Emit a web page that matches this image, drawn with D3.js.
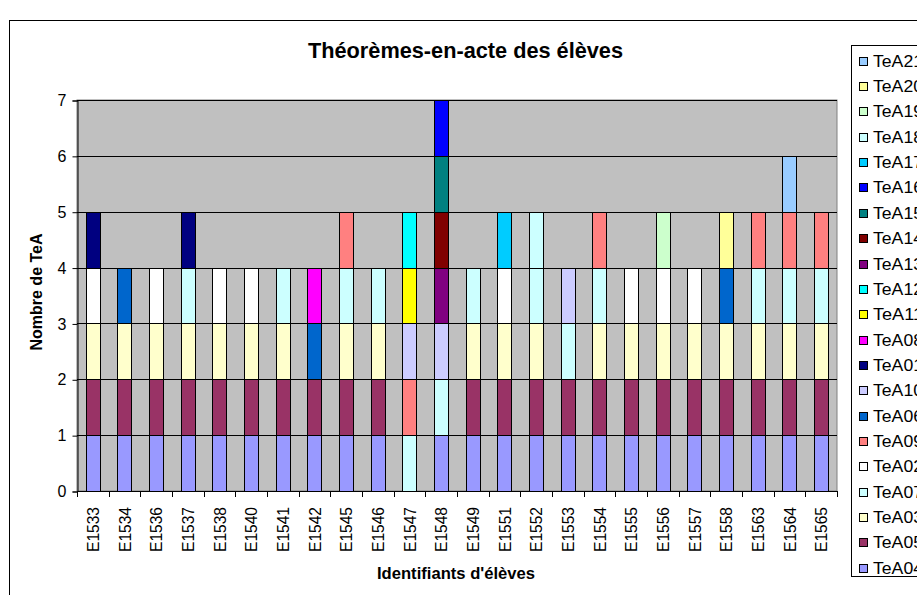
<!DOCTYPE html>
<html>
<head>
<meta charset="utf-8">
<script src="https://cdn.jsdelivr.net/npm/d3@7"></script>
<style>
  body { margin: 0; background: #fff; }
  text { font-family: Arial, "Liberation Sans", sans-serif; }
</style>
</head>
<body>
<div id="chart"></div>
<script>
const students = ["E1533", "E1534", "E1536", "E1537", "E1538", "E1540", "E1541", "E1542",
  "E1545", "E1546", "E1547", "E1548", "E1549", "E1551", "E1552", "E1553", "E1554",
  "E1555", "E1556", "E1557", "E1558", "E1563", "E1564", "E1565"];

// stacking order, bottom to top (legend shows it reversed)
const seriesNames = ["TeA04", "TeA05", "TeA03", "TeA07", "TeA02", "TeA09", "TeA06", "TeA10",
  "TeA01", "TeA08", "TeA11", "TeA12", "TeA13", "TeA14", "TeA15", "TeA16", "TeA17",
  "TeA18", "TeA19", "TeA20", "TeA21"];

const seriesColors = ["#9999ff", "#993366", "#ffffcc", "#ccffff", "#ffffff", "#ff8080", "#0066cc", "#ccccff",
  "#000080", "#ff00ff", "#ffff00", "#00ffff", "#800080", "#800000", "#008080", "#0000ff", "#00ccff",
  "#ccffff", "#ccffcc", "#ffff99", "#99ccff"];

// theorems-in-action held by each student (value 1 each)
const teaByStudent = [
  ["TeA04", "TeA05", "TeA03", "TeA02", "TeA01"],
  ["TeA04", "TeA05", "TeA03", "TeA06"],
  ["TeA04", "TeA05", "TeA03", "TeA02"],
  ["TeA04", "TeA05", "TeA03", "TeA07", "TeA01"],
  ["TeA04", "TeA05", "TeA03", "TeA02"],
  ["TeA04", "TeA05", "TeA03", "TeA02"],
  ["TeA04", "TeA05", "TeA03", "TeA07"],
  ["TeA04", "TeA05", "TeA06", "TeA08"],
  ["TeA04", "TeA05", "TeA03", "TeA07", "TeA09"],
  ["TeA04", "TeA05", "TeA03", "TeA07"],
  ["TeA07", "TeA09", "TeA10", "TeA11", "TeA12"],
  ["TeA04", "TeA07", "TeA10", "TeA13", "TeA14", "TeA15", "TeA16"],
  ["TeA04", "TeA05", "TeA03", "TeA07"],
  ["TeA04", "TeA05", "TeA03", "TeA02", "TeA17"],
  ["TeA04", "TeA05", "TeA03", "TeA07", "TeA18"],
  ["TeA04", "TeA05", "TeA07", "TeA10"],
  ["TeA04", "TeA05", "TeA03", "TeA07", "TeA09"],
  ["TeA04", "TeA05", "TeA03", "TeA02"],
  ["TeA04", "TeA05", "TeA03", "TeA02", "TeA19"],
  ["TeA04", "TeA05", "TeA03", "TeA02"],
  ["TeA04", "TeA05", "TeA03", "TeA06", "TeA20"],
  ["TeA04", "TeA05", "TeA03", "TeA07", "TeA09"],
  ["TeA04", "TeA05", "TeA03", "TeA07", "TeA09", "TeA21"],
  ["TeA04", "TeA05", "TeA03", "TeA07", "TeA09"]
];

const yTicks = [0, 1, 2, 3, 4, 5, 6, 7];

let width = 917, height = 595;
let plot = {left: 77, right: 837, top: 100, bottom: 491};

let svg = d3.select("#chart").append("svg")
  .attr("width", width)
  .attr("height", height);

// chart area border
svg.append("rect")
  .attr("x", 9.5).attr("y", 20.5)
  .attr("width", 1000).attr("height", 1000)
  .attr("fill", "#fff")
  .attr("stroke", "#000");

let rows = students.map((s, i) => {
  let row = {student: s};
  seriesNames.forEach(k => { row[k] = teaByStudent[i].includes(k) ? 1 : 0; });
  return row;
});

let stacked = d3.stack().keys(seriesNames)(rows);

let x = d3.scaleBand()
  .domain(students)
  .range([plot.left, plot.right])
  .paddingInner(0.5556)
  .paddingOuter(0.2778);

let y = d3.scaleLinear()
  .domain([0, 7])
  .range([plot.bottom, plot.top]);

let color = d3.scaleOrdinal().domain(seriesNames).range(seriesColors);

// plot background
svg.append("rect")
  .attr("x", plot.left).attr("y", plot.top)
  .attr("width", plot.right - plot.left)
  .attr("height", plot.bottom - plot.top)
  .attr("fill", "#c0c0c0")
  .attr("stroke", "#808080");

// gridlines
svg.append("g")
  .selectAll("line")
  .data(yTicks.filter(t => t > 0))
  .enter().append("line")
  .attr("x1", plot.left).attr("x2", plot.right)
  .attr("y1", d => Math.round(y(d)) + 0.5)
  .attr("y2", d => Math.round(y(d)) + 0.5)
  .attr("stroke", "#000");

// stacked bars
svg.append("g")
  .selectAll("g")
  .data(stacked)
  .enter().append("g")
  .attr("fill", d => color(d.key))
  .selectAll("rect")
  .data(d => d.filter(p => p[1] - p[0] > 0))
  .enter().append("rect")
  .attr("x", d => Math.round(x(d.data.student)) + 0.5)
  .attr("y", d => Math.round(y(d[1])) + 0.5)
  .attr("width", Math.round(x.bandwidth()))
  .attr("height", d => Math.round(y(d[0])) - Math.round(y(d[1])))
  .attr("stroke", "#000");

// y axis
let yAxis = d3.axisLeft(y)
  .tickValues(yTicks)
  .tickSize(5)
  .tickPadding(6)
  .tickFormat(d3.format("d"));

let gy = svg.append("g")
  .attr("transform", `translate(${plot.left + 0.5},0.5)`)
  .call(yAxis);
gy.select(".domain").attr("stroke", "#000");
gy.selectAll("text").attr("font-size", 16).attr("fill", "#000")
  .style("font-family", "Arial, 'Liberation Sans', sans-serif");

// x axis: ticks sit between categories
let xAxisG = svg.append("g");
xAxisG.append("line")
  .attr("x1", plot.left).attr("x2", plot.right)
  .attr("y1", plot.bottom + 0.5).attr("y2", plot.bottom + 0.5)
  .attr("stroke", "#000");

let boundaries = d3.range(students.length + 1).map(i => plot.left + i * x.step());
xAxisG.selectAll(".tick")
  .data(boundaries)
  .enter().append("line")
  .attr("x1", d => Math.round(d) + 0.5).attr("x2", d => Math.round(d) + 0.5)
  .attr("y1", plot.bottom).attr("y2", plot.bottom + 6)
  .attr("stroke", "#000");

xAxisG.selectAll(".lbl")
  .data(students)
  .enter().append("text")
  .attr("transform", d => `translate(${x(d) + x.bandwidth() / 2 + 6},${plot.bottom + 16}) rotate(-90)`)
  .attr("text-anchor", "end")
  .attr("font-size", 16)
  .attr("textLength", 45)
  .attr("lengthAdjust", "spacingAndGlyphs")
  .text(d => d);

// titles
svg.append("text")
  .attr("x", 465.5).attr("y", 58)
  .attr("text-anchor", "middle")
  .attr("font-size", 22)
  .attr("font-weight", "bold")
  .attr("textLength", 315)
  .attr("lengthAdjust", "spacingAndGlyphs")
  .text("Théorèmes-en-acte des élèves");

svg.append("text")
  .attr("transform", "translate(42,292) rotate(-90)")
  .attr("text-anchor", "middle")
  .attr("font-size", 16)
  .attr("font-weight", "bold")
  .text("Nombre de TeA");

svg.append("text")
  .attr("x", 456).attr("y", 579)
  .attr("text-anchor", "middle")
  .attr("font-size", 16)
  .attr("font-weight", "bold")
  .attr("textLength", 158)
  .attr("lengthAdjust", "spacingAndGlyphs")
  .text("Identifiants d'élèves");

// legend
let legendNames = seriesNames.slice().reverse();
let legendY = d3.scalePoint().domain(legendNames).range([60.7, 567.7]);

svg.append("rect")
  .attr("x", 851.5).attr("y", 45.5)
  .attr("width", 200).attr("height", 531)
  .attr("fill", "#fff")
  .attr("stroke", "#000");

let items = svg.append("g")
  .selectAll("g")
  .data(legendNames)
  .enter().append("g")
  .attr("transform", d => `translate(0,${Math.round(legendY(d))})`);

items.append("rect")
  .attr("x", 859.5).attr("y", -3.5)
  .attr("width", 8).attr("height", 8)
  .attr("fill", d => color(d))
  .attr("stroke", "#000");

items.append("text")
  .attr("x", 873).attr("y", 6)
  .attr("font-size", 16)
  .attr("textLength", 50)
  .attr("lengthAdjust", "spacingAndGlyphs")
  .text(d => d);
</script>
</body>
</html>
